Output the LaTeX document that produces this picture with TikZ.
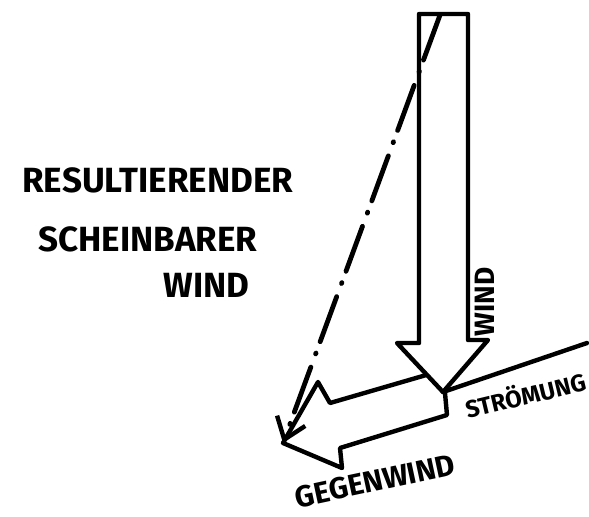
\documentclass[tikz,border=0pt]{standalone}
\usepackage{fontspec}
\setmainfont{Fira Sans}
\usetikzlibrary{arrows.meta}

\tikzset{
  sketch/.style={line width=2.2pt, line join=round, line cap=round},
  resline/.style={line width=2.4pt, line cap=round,
    dash pattern=on 24pt off 6pt on 0.5pt off 7pt,
    -{Straight Barb[length=10pt,width=15pt,line width=2.2pt]}},
  caption/.style={font=\fontsize{17.5}{17.5}\selectfont\bfseries, inner sep=0pt, anchor=west},
  tag/.style={inner sep=0pt},
}

\begin{document}
\begin{tikzpicture}[x=0.5pt,y=-0.5pt]
\useasboundingbox (0,0) rectangle (589,516);

% Gegenwind arrow (pointing down-left)
\draw[sketch] (440,371) -- (330,403) -- (318,382) -- (283,443) -- (342,468)
  -- (340,448) -- (447,415) -- (445,393);

% Wind arrow (pointing down)
\filldraw[sketch, fill=white] (419,14) -- (468,14) -- (468,340) -- (488,340)
  -- (443,392) -- (397,343) -- (419,343) -- cycle;

% Stroemung line from the wind tip
\coordinate (windtip) at (443,392);
\coordinate (flowend) at (587,343);
\draw[sketch] (windtip) -- (flowend);

% Resulting apparent wind
\coordinate (resstart) at (440,15);
\coordinate (resend) at (283,443);
\draw[resline] (resstart) -- (resend);

% Labels
\node[caption] (resultierend) at (22,180) {RESULTIERENDER};
\node[caption] (scheinbar) at (38,239) {SCHEINBARER};
\node[caption] (wind) at (163,285) {WIND};

\node[tag, rotate=90, font=\fontsize{14}{14}\selectfont\bfseries] (windlabel) at (485,302) {WIND};
\node[tag, rotate=13.5, font=\fontsize{12}{12}\selectfont\bfseries] (flowlabel) at (525,394) {STRÖMUNG};
\node[tag, rotate=12, font=\fontsize{15}{15}\selectfont\bfseries] (headlabel) at (375,481) {GEGENWIND};

\end{tikzpicture}
\end{document}
